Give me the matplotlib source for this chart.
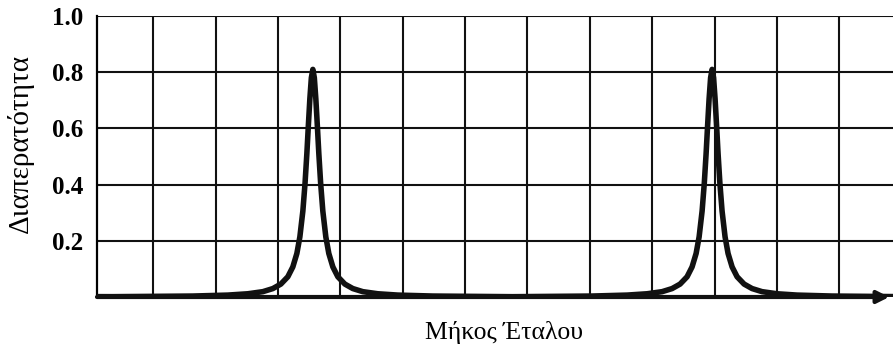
import numpy as np
from matplotlib import pyplot as plt

plt.rcParams['font.family'] = ['Liberation Serif', 'DejaVu Serif']

# transmission curve (x in grid cells)
x_len = [0.100, 0.355, 1.637, 2.198, 2.518, 2.759, 2.919, 3.047, 3.159, 3.239,
         3.304, 3.352, 3.400, 3.435, 3.464, 3.488, 3.512, 3.536,
         3.560,
         3.584, 3.608, 3.632, 3.656, 3.685, 3.720, 3.768, 3.816, 3.881,
         3.961, 4.073, 4.201, 4.361, 4.602, 4.922, 5.483, 6.760,
         8.037, 8.598, 8.918, 9.159, 9.319, 9.447, 9.559, 9.639,
         9.704, 9.752, 9.800, 9.835, 9.864, 9.888, 9.912, 9.936,
         9.960,
         9.984, 10.008, 10.032, 10.056, 10.085, 10.120, 10.168, 10.216, 10.281,
         10.361, 10.473, 10.601, 10.761, 11.002, 11.322, 11.883, 12.860]
trans = [0.0013, 0.0012, 0.0034, 0.0068, 0.0115, 0.019, 0.030, 0.046, 0.072, 0.107,
         0.155, 0.214, 0.306, 0.405, 0.51, 0.61, 0.705, 0.78,
         0.81,
         0.78, 0.705, 0.61, 0.51, 0.405, 0.306, 0.214, 0.155, 0.107,
         0.072, 0.046, 0.030, 0.019, 0.0115, 0.0068, 0.0034, 0.0011,
         0.0034, 0.0068, 0.0115, 0.019, 0.030, 0.046, 0.072, 0.107,
         0.155, 0.214, 0.306, 0.405, 0.51, 0.61, 0.705, 0.78,
         0.81,
         0.78, 0.705, 0.61, 0.51, 0.405, 0.306, 0.214, 0.155, 0.107,
         0.072, 0.046, 0.030, 0.019, 0.0115, 0.0068, 0.0034, 0.0015]

y_ticks = [0.2, 0.4, 0.6, 0.8, 1.0]
y_labels = ["0.2", "0.4", "0.6", "0.8", "1.0"]
x_grid = [1, 2, 3, 4, 5, 6, 7, 8, 9, 10, 11, 12]

fig = plt.figure(figsize=(8.93, 3.44), dpi=100)
ax = fig.add_axes([97 / 893, 1 - 297 / 344, 1 - 97 / 893, (297 - 16) / 344])

for xv in x_grid:
    ax.plot([xv, xv], [0, 1.0], color='#111111', lw=1.5, zorder=1)
for yv in y_ticks:
    ax.axhline(yv, color='#111111', lw=1.5, zorder=1)

ax.plot(x_len, trans, color='#111111', lw=4, solid_joinstyle='round',
        solid_capstyle='round', zorder=3)

ax.set_xlim(0.10, 12.86)
ax.set_ylim(0, 1.0)
ax.set_xticks([])
ax.set_yticks(y_ticks)
ax.set_yticklabels(y_labels, fontsize=18, fontweight='bold')
ax.tick_params(axis='y', length=0, pad=10)

for s in ['top', 'right', 'bottom']:
    ax.spines[s].set_visible(False)
ax.spines['left'].set_linewidth(1.6)

# x axis with arrow
ax.annotate('', xy=(12.80, 0), xytext=(0.10, 0),
            arrowprops=dict(arrowstyle='-|>', color='#111111', lw=3,
                            mutation_scale=18, shrinkA=0, shrinkB=0),
            annotation_clip=False, zorder=4)

fig.text(20 / 893, 1 - 143 / 344, "Διαπερατότητα", fontsize=21, rotation=90,
         ha='center', va='center')
fig.text(504 / 893, 1 - 333 / 344, "Μήκος Έταλου", fontsize=18.5,
         ha='center', va='center')

fig.savefig("out.png", dpi=100)
